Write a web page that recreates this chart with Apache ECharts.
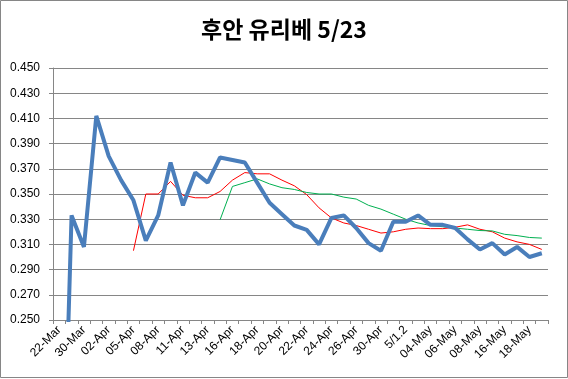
<!DOCTYPE html>
<html>
<head>
<meta charset="utf-8">
<script src="https://cdn.jsdelivr.net/npm/echarts@6/dist/echarts.min.js"></script>
<style>
html,body{margin:0;padding:0;background:#fff;}
#chart{width:568px;height:379px;}
</style>
</head>
<body>
<div id="chart"></div>
<script>
const titleText = '후안 유리베 5/23';
const categories = ['22-Mar','29-Mar','30-Mar','01-Apr','02-Apr','03-Apr','05-Apr','06-Apr','08-Apr','09-Apr',
  '11-Apr','12-Apr','13-Apr','15-Apr','16-Apr','17-Apr','18-Apr','19-Apr','20-Apr','21-Apr',
  '22-Apr','23-Apr','24-Apr','25-Apr','26-Apr','27-Apr','30-Apr','5/1.1','5/1.2','03-May',
  '04-May','05-May','06-May','07-May','08-May','09-May','16-May','17-May','18-May','19-May'];
const avgSeries = [0,0.333,0.308,0.412,0.380,0.361,0.345,0.313,0.333,0.375,
  0.341,0.367,0.359,0.379,0.377,0.375,0.359,0.343,0.334,0.325,
  0.3215,0.310,0.331,0.333,0.323,0.311,0.305,0.328,0.328,0.333,
  0.3255,0.3255,0.323,0.314,0.306,0.311,0.302,0.308,0.300,0.303];
const redSeries = [null,null,null,null,null,null,0.305,0.350,0.350,0.360,
  0.349,0.347,0.347,0.352,0.361,0.367,0.366,0.366,0.361,0.3565,
  0.3495,0.339,0.331,0.327,0.325,0.322,0.319,0.320,0.322,0.323,
  0.3225,0.3225,0.3236,0.3255,0.322,0.320,0.315,0.312,0.310,0.306];
const greenSeries = [null,null,null,null,null,null,null,null,null,null,
  null,null,null,0.3295,0.356,0.359,0.362,0.358,0.355,0.3536,
  0.3512,0.350,0.350,0.3475,0.346,0.341,0.338,0.334,0.330,0.327,
  0.325,0.324,0.323,0.322,0.321,0.3207,0.318,0.317,0.3155,0.315];
const yMin = 0.25, yMax = 0.45, yStep = 0.02;

const chart = echarts.init(document.getElementById('chart'), null, {renderer:'canvas'});
const gray = '#868686';
chart.setOption({
  animation:false,
  backgroundColor:'#fff',
  title:{
    text:titleText, left:'center', top:13,
    textStyle:{fontFamily:'"Noto Sans CJK KR", sans-serif', fontWeight:'bold', fontSize:23, color:'#000'}
  },
  graphic:[{type:'rect', shape:{x:0.5,y:0.5,width:567,height:377}, style:{fill:'none', stroke:gray, lineWidth:1}, silent:true}],
  grid:{left:53, right:20, top:68, bottom:59, containLabel:false},
  xAxis:{
    type:'category', data:categories, boundaryGap:true,
    axisLine:{show:true, lineStyle:{color:gray, width:1}},
    axisTick:{show:true, interval:0, length:4, lineStyle:{color:gray}},
    axisLabel:{interval:1, rotate:45, margin:8, fontFamily:'"Liberation Sans", Arial, sans-serif', fontSize:12, color:'#000'},
    splitLine:{show:false}
  },
  yAxis:{
    type:'value', min:yMin, max:yMax, interval:yStep,
    axisLine:{show:true, lineStyle:{color:gray, width:1}},
    axisTick:{show:true, length:4, lineStyle:{color:gray}},
    axisLabel:{margin:13, formatter:v=>v.toFixed(3), fontFamily:'"Liberation Sans", Arial, sans-serif', fontSize:12, color:'#000'},
    splitLine:{show:true, lineStyle:{color:gray, width:1}}
  },
  series:[
    {type:'line', data:avgSeries, symbol:'none', clip:true, lineStyle:{color:'#4A7EBB', width:4}, z:3},
    {type:'line', data:redSeries, symbol:'none', clip:true, connectNulls:false, lineStyle:{color:'#FF0000', width:1}, z:2},
    {type:'line', data:greenSeries, symbol:'none', clip:true, connectNulls:false, lineStyle:{color:'#00B050', width:1}, z:2}
  ]
});
</script>
</body>
</html>
